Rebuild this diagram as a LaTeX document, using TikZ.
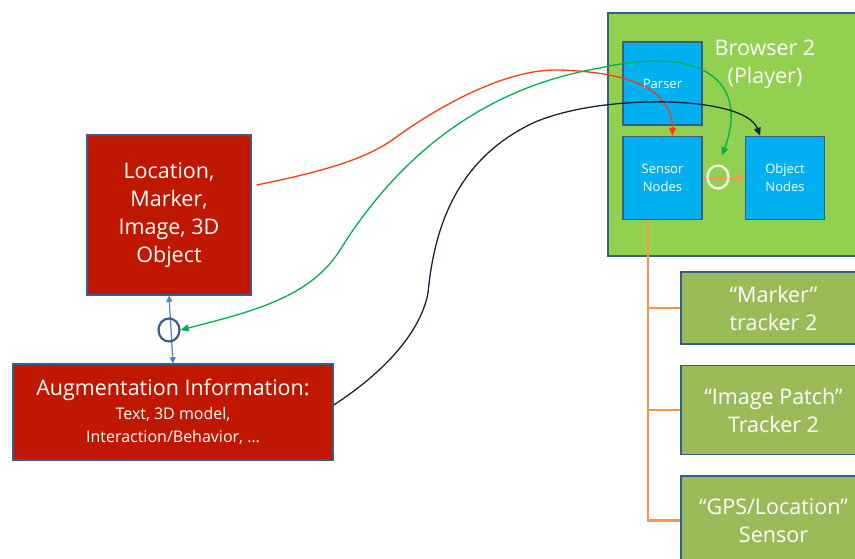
\documentclass[tikz,border=0pt]{standalone}
\usepackage{fontspec}
\setmainfont{Open Sans}
\usetikzlibrary{positioning,arrows.meta,calc,shapes.geometric}
\definecolor{bLine}{RGB}{56,93,138}
\definecolor{bGreen}{RGB}{146,208,80}
\definecolor{bCyan}{RGB}{0,176,240}
\definecolor{tOlive}{RGB}{155,187,89}
\definecolor{aRed}{RGB}{192,24,0}
\definecolor{tOrange}{RGB}{247,150,70}
\definecolor{cRed}{RGB}{250,60,20}
\definecolor{cGreen}{RGB}{0,176,80}
\definecolor{cNavy}{RGB}{20,35,65}
\definecolor{cBlue}{RGB}{79,129,189}
\newcommand{\auglarge}{\fontsize{21.5}{28}\selectfont}
\tikzset{
  box/.style={rectangle, draw=bLine, line width=1.5pt, inner sep=0pt,
              align=center, text=white, font=\fontsize{21.5}{28}\selectfont},
  player/.style={box, fill=bGreen},
  part/.style={box, fill=bCyan, minimum width=79pt, minimum height=83pt,
               font=\fontsize{13}{18}\selectfont},
  tracker/.style={box, fill=tOlive, minimum width=185pt},
  content/.style={box, fill=aRed},
  port/.style={ellipse, line width=2.2pt, minimum width=21pt,
               minimum height=23pt, inner sep=0pt},
  feed/.style={draw=tOrange, line width=2.8pt},
  link/.style={line width=1.3pt, -{Triangle[length=8pt,width=7pt]}},
  bilink/.style={line width=1.3pt,
                 {Triangle[length=8pt,width=7pt]}-{Triangle[length=8pt,width=7pt]}},
}

\begin{document}
\begin{tikzpicture}[x=1pt,y=-1pt]
  \useasboundingbox (0,0) rectangle (855,558);

  %====================== PLAYER SIDE ======================
  \node[player, anchor=north west, minimum width=263pt, minimum height=243pt]
       (browser) at (607,12) {};
  \node[text=white, align=center, font=\fontsize{21.5}{28}\selectfont]
       (title) at (765,64) {Browser 2\\(Player)};
  \node[part] (parser) at (662.5,83.5) {Parser};
  \node[part, below=10pt of parser] (sensor) {Sensor\\Nodes};
  \node[part, right=42pt of sensor] (object) {Object\\Nodes};

  % trackers hanging off the sensor nodes
  \node[tracker, minimum height=72pt] (mark) at (773.5,308) {“Marker”\\tracker 2};
  \node[tracker, minimum height=89pt, below=20pt of mark] (patch) {“Image Patch”\\Tracker 2};
  \node[tracker, minimum height=89pt, below=20pt of patch] (gps) {“GPS/Location”\\Sensor};

  \draw[feed] ([xshift=-14.5pt]sensor.south) |- (mark.west);
  \draw[feed] ([xshift=-14.5pt]sensor.south) |- (patch.west);
  \draw[feed] ([xshift=-14.5pt]sensor.south) |- (gps.west);

  % sensor -> object route with its port
  \draw[feed, -{Triangle[length=8pt,width=8pt]}] (sensor.east) -- (object.west);
  \node[port, draw=white] (o2) at (718,177) {};

  %====================== CONTENT SIDE ======================
  \node[content, minimum width=164pt, minimum height=160pt] (loc) at (169,215)
       {Location,\\Marker,\\Image, 3D\\Object};
  \node[content, minimum width=320pt, minimum height=96pt,
        font=\fontsize{16}{23.5}\selectfont] (aug) at (173,412)
       {\auglarge Augmentation Information:\\Text, 3D model,\\Interaction/Behavior, \dots};

  \draw[draw=cBlue, line width=1.2pt,
        {Triangle[length=6pt,width=6pt]}-{Triangle[length=6pt,width=6pt]}]
       (loc.south) -- (aug.north);
  \node[port, draw=bLine] (o1) at (169,330) {};

  %====================== BINDINGS ======================
  \draw[link, draw=cRed]
       ([xshift=5pt,yshift=30pt]loc.east)
       .. controls (320,172) and (365,160) .. (395,138)
       .. controls (425,116) and (500,68) .. (560,70)
       .. controls (620,72) and (672,85) .. ([xshift=10pt]sensor.north);
  \draw[bilink, draw=cGreen]
       (o1.east)
       .. controls (250,312) and (310,298) .. (340,250)
       .. controls (390,170) and (470,90) .. (600,68)
       .. controls (700,45) and (750,80) .. ([xshift=4pt,yshift=9pt]o2.north);
  \draw[link, draw=cNavy]
       ([yshift=7pt]aug.east)
       .. controls (380,375) and (420,335) .. (428,293)
       .. controls (434,230) and (455,160) .. (533,123)
       .. controls (600,93) and (745,95) .. ([xshift=-25pt]object.north);

\end{tikzpicture}
\end{document}
